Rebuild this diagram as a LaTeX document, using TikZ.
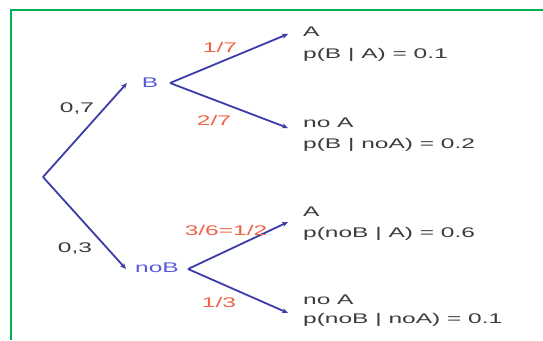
\documentclass[tikz,border=0pt]{standalone}
\usepackage{fontspec}
\newfontfamily\wf{Liberation Sans}[FakeStretch=1.75]
\usetikzlibrary{arrows.meta}
\definecolor{edgeblue}{RGB}{60,60,170}
\definecolor{nodeblue}{RGB}{90,90,220}
\definecolor{probred}{RGB}{240,100,70}
\definecolor{txtgray}{RGB}{60,60,60}
\definecolor{framegreen}{RGB}{0,176,80}
\tikzset{
  branch/.style={draw=edgeblue, line width=1.8pt, -{Stealth[length=6pt,width=5pt]}},
  txt/.style={inner sep=0pt, font=\wf\fontsize{14}{16}\selectfont},
  outcome/.style={txt, text=txtgray, anchor=west},
  evnt/.style={txt, text=nodeblue},
  prob/.style={txt, text=probred},
  wprob/.style={txt, text=txtgray},
}
\begin{document}
\begin{tikzpicture}[x=1pt,y=-1pt]
\useasboundingbox (0,0) rectangle (543,340);
\fill[white] (0,0) rectangle (543,340);
\draw[framegreen, line width=2pt] (11,340) -- (11,10) -- (543,10);
% coordinates
\coordinate (root) at (43,177);
\coordinate (bin) at (127,83);
\coordinate (bout) at (170,83);
\coordinate (nbin) at (126,269);
\coordinate (nbout) at (188,269);
\coordinate (a1) at (288,34);
\coordinate (na1) at (288,128);
\coordinate (a2) at (288,222);
\coordinate (na2) at (288,313);
% edges
\draw[branch] (root) -- (bin);
\draw[branch] (root) -- (nbin);
\draw[branch] (bout) -- (a1);
\draw[branch] (bout) -- (na1);
\draw[branch] (nbout) -- (a2);
\draw[branch] (nbout) -- (na2);
% event labels
\node[evnt] (B) at (150,83) {B};
\node[evnt] (noB) at (157,268) {noB};
% probabilities
\node[wprob] (p07) at (77,109) {0,7};
\node[wprob] (p03) at (75,249) {0,3};
\node[prob] (p17) at (220,47) {1/7};
\node[prob] (p27) at (214,120) {2/7};
\node[prob] (p36) at (226,230) {3/6=1/2};
\node[prob] (p13) at (219,302) {1/3};
% outcomes
\node[outcome] (o1) at (303,32) {A};
\node[outcome] (o1p) at (303,55) {p(B | A) = 0.1};
\node[outcome] (o2) at (303,123) {no A};
\node[outcome] (o2p) at (303,145) {p(B | noA) = 0.2};
\node[outcome] (o3) at (303,212) {A};
\node[outcome] (o3p) at (303,234) {p(noB | A) = 0.6};
\node[outcome] (o4) at (303,300) {no A};
\node[outcome] (o4p) at (303,320) {p(noB | noA) = 0.1};
\end{tikzpicture}
\end{document}
